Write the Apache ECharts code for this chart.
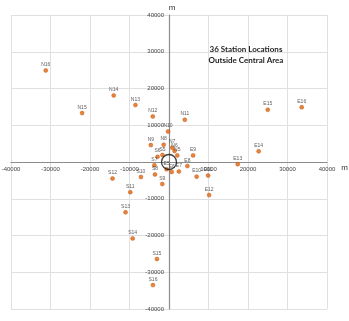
<!DOCTYPE html>
<html>
<head>
<meta charset="utf-8">
<script src="https://cdn.jsdelivr.net/npm/echarts@6/dist/echarts.min.js"></script>
<style>
  html, body { margin: 0; padding: 0; background: #fff; }
  #chart { width: 349px; height: 321px; }
</style>
</head>
<body>
<div id="chart"></div>
<script>
// station names and positions (m)
const stationNames = [
  'N5', 'N6', 'N7', 'N8', 'N9', 'N10', 'N11', 'N12', 'N13', 'N14', 'N15', 'N16',
  'S5', 'S6', 'S7', 'S8', 'S9', 'S10', 'S11', 'S12', 'S13', 'S14', 'S15', 'S16',
  'E5', 'E6', 'E7', 'E8', 'E9', 'E10', 'E11', 'E12', 'E13', 'E14', 'E15', 'E16'
]
const stationX = [
  2100, 1400, 800, -1350, -4600, -250, 4000, -4100, -8500, -14000, -22000, -31200,
  -1650, -2900, -3700, -3550, -1700, -7100, -9800, -14300, -11000, -9200, -3050, -4060,
  -600, 700, 2500, 4650, 6100, 7000, 9900, 10150, 17400, 22700, 25000, 33600
]
const stationY = [
  1800, 3000, 3900, 4700, 4600, 8300, 11500, 12400, 15500, 18100, 13300, 24900,
  1900, 1400, -900, -3400, -6000, -4100, -8200, -4500, -13700, -20800, -26400, -33500,
  -2000, -2700, -2600, -1100, 1800, -4000, -3700, -9000, -600, 2900, 14200, 14900
]
// central area (centre point)
const centralArea = [[0, 0]]

const W = 349, H = 321
const grid = { left: 11, right: 22, top: 15, bottom: 12 }
// 轴线画在 0 处：用 offset 把整根轴（含刻度标签）挪到中间
const xOffset = -(H - grid.top - grid.bottom) / 2
const yOffset = -(W - grid.left - grid.right) / 2

const chart = echarts.init(document.getElementById('chart'))

const stations = stationNames.map((n, i) => [stationX[i], stationY[i], n])

// 轴的公共样式
const axisBase = {
  type: 'value',
  min: -40000,
  max: 40000,
  interval: 10000,
  axisLine: { onZero: false, lineStyle: { color: '#8c8c8c', width: 1.2 } },
  axisTick: { show: false },
  splitLine: { show: true, lineStyle: { color: '#e0e0e0', width: 1 } },
  axisLabel: {
    fontSize: 6,
    color: '#444',
    fontFamily: 'Liberation Sans',
    formatter: (v) => (v === 0 ? '' : String(v))
  },
  name: 'm',
  nameTextStyle: { fontSize: 8, color: '#333', fontFamily: 'Liberation Sans' }
}

const option = {
  animation: false,
  backgroundColor: '#fff',
  title: {
    text: '36 Station Locations\nOutside Central Area',
    left: 241,
    top: 39,
    textAlign: 'center',
    textStyle: {
      fontSize: 8,
      fontWeight: 'bold',
      color: '#222',
      lineHeight: 11,
      fontFamily: 'Lato'
    }
  },
  grid: Object.assign({ containLabel: false, outerBoundsMode: 'none' }, grid),
  xAxis: Object.assign({}, axisBase, {
    position: 'bottom',
    offset: xOffset,
    nameLocation: 'end',
    nameGap: 12,
    nameTextStyle: Object.assign({}, axisBase.nameTextStyle, { verticalAlign: 'top', padding: [2, 0, 0, 0] }),
    axisLabel: Object.assign({}, axisBase.axisLabel, { margin: 4 })
  }),
  yAxis: Object.assign({}, axisBase, {
    position: 'left',
    offset: yOffset,
    nameLocation: 'end',
    nameGap: 3,
    nameTextStyle: Object.assign({}, axisBase.nameTextStyle, { padding: [0, 0, 0, 6] }),
    axisLabel: Object.assign({}, axisBase.axisLabel, { margin: 5 })
  }),
  series: [
    {
      type: 'scatter',
      data: stations,
      symbolSize: 4,
      itemStyle: { color: '#e3650c', borderColor: '#b94a06', borderWidth: 0.5 },
      label: {
        show: true,
        position: 'top',
        distance: 1,
        formatter: (p) => p.data[2],
        fontSize: 5,
        color: '#333',
        fontFamily: 'Liberation Sans'
      },
      z: 3
    },
    {
      type: 'scatter',
      data: centralArea,
      symbolSize: 15,
      itemStyle: { color: 'rgba(0,0,0,0)', borderColor: '#111', borderWidth: 1.3 },
      silent: true,
      z: 4
    }
  ]
}
chart.setOption(option)
</script>
</body>
</html>
